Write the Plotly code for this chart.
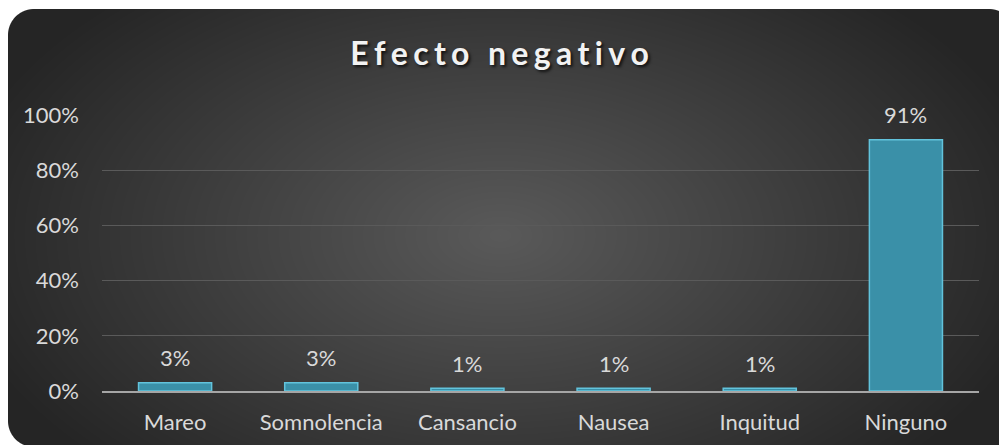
import base64, struct, zlib
import numpy as np
import plotly.graph_objects as go

categories = ["Mareo", "Somnolencia", "Cansancio", "Nausea", "Inquitud", "Ninguno"]
values = [3, 3, 1, 1, 1, 91]
labels = ["3%", "3%", "1%", "1%", "1%", "91%"]
tick_vals = [0, 20, 40, 60, 80, 100]
tick_text = ["0%", "20%", "40%", "60%", "80%", "100%"]
title_text = "Efecto negativo"

W, H = 999, 445
FONT = "Lato"


def make_bg():
    yy, xx = np.mgrid[0:H, 0:W].astype(float)
    cx, cy = 500.0, 235.0
    t = np.sqrt(((xx - cx) / 560.0) ** 2 + ((yy - cy) / 330.0) ** 2)
    t = np.clip(t, 0, 1)
    c_in = np.array([0x5a, 0x5a, 0x5a], float)
    c_out = np.array([0x25, 0x25, 0x25], float)
    rgb = c_in[None, None, :] * (1 - t[..., None]) + c_out[None, None, :] * t[..., None]
    # rounded rectangle alpha
    x0, y0, x1, y1, r = 8, 9, 1015, 447, 26
    px = xx + 0.5
    py = yy + 0.5
    dx = np.maximum(np.maximum(x0 + r - px, px - (x1 - r)), 0)
    dy = np.maximum(np.maximum(y0 + r - py, py - (y1 - r)), 0)
    d = np.sqrt(dx ** 2 + dy ** 2)
    inside = (px >= x0) & (px <= x1) & (py >= y0) & (py <= y1)
    a = np.clip(r + 0.5 - d, 0, 1) * inside
    img = np.dstack([rgb, a[..., None] * 255]).astype(np.uint8)
    raw = b"".join(b"\x00" + img[i].tobytes() for i in range(H))

    def chunk(tag, data):
        c = struct.pack(">I", len(data)) + tag + data
        return c + struct.pack(">I", zlib.crc32(tag + data) & 0xFFFFFFFF)

    png = b"\x89PNG\r\n\x1a\n" + chunk(b"IHDR", struct.pack(">IIBBBBB", W, H, 8, 6, 0, 0, 0))
    png += chunk(b"IDAT", zlib.compress(raw, 9)) + chunk(b"IEND", b"")
    return "data:image/png;base64," + base64.b64encode(png).decode()


spaced_title = "\u2006".join(list(title_text))

fig = go.Figure(
    go.Bar(
        x=categories,
        y=values,
        width=0.5,
        marker=dict(color="#3a90a8", line=dict(color="#62c3dc", width=1.5)),
        hoverinfo="skip",
    )
)

for c, v, lab in zip(categories, values, labels):
    fig.add_annotation(
        x=c, y=v, xref="x", yref="y", text=lab, showarrow=False,
        yanchor="middle", yshift=25,
        font=dict(color="#d9d9d9", size=22, family=FONT),
    )

fig.update_layout(
    width=W,
    height=H,
    margin=dict(l=0, r=0, t=0, b=0),
    paper_bgcolor="white",
    plot_bgcolor="rgba(0,0,0,0)",
    showlegend=False,
    images=[dict(source=make_bg(), xref="paper", yref="paper", x=0, y=1,
                 sizex=1, sizey=1, xanchor="left", yanchor="top",
                 sizing="stretch", layer="below")],
    title=dict(
        text="<b>" + spaced_title + "</b>",
        x=0.5, xanchor="center", y=1 - 54 / H, yanchor="middle",
        font=dict(size=32, color="#f2f2f2", family=FONT,
                  shadow="2px 2px 3px rgba(0,0,0,0.7)"),
    ),
    xaxis=dict(
        domain=[102 / W, 979 / W],
        showgrid=False,
        showline=True, linecolor="#a6a6a6", linewidth=2,
        ticks="",
        ticklabelstandoff=11,
        tickfont=dict(color="#d9d9d9", size=22, family=FONT),
        automargin=False,
        fixedrange=True,
    ),
    yaxis=dict(
        domain=[(H - 391) / H, (H - 115) / H],
        range=[0, 100],
        tickvals=tick_vals,
        ticktext=tick_text,
        showgrid=True, gridcolor="#5a5a5a", gridwidth=1,
        zeroline=False,
        showline=False,
        ticks="",
        ticklabelstandoff=22,
        tickfont=dict(color="#d9d9d9", size=22, family=FONT),
        automargin=False,
        fixedrange=True,
    ),
)

fig.write_html("out.html")
